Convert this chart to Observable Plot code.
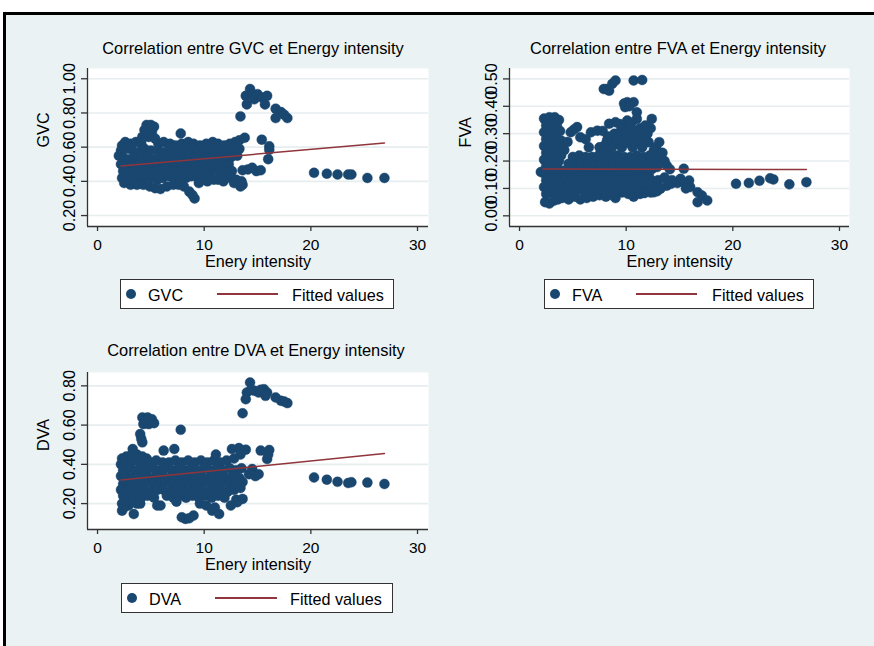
<!DOCTYPE html>
<html>
<head>
<meta charset="utf-8">
<script src="https://cdn.jsdelivr.net/npm/d3@7"></script>
<script src="https://cdn.jsdelivr.net/npm/@observablehq/plot@0.6"></script>
<style>
  html, body { margin: 0; padding: 0; background: #fff; }
  #page { position: relative; width: 874px; height: 646px; overflow: hidden; background: #fff;
          font-family: "Liberation Sans", Arial, Helvetica, sans-serif; color: #000; }
  #region { position: absolute; left: 3px; top: 12px; width: 871px; height: 634px; background: #eaf2f3;
            border-top: 3px solid #000; border-left: 3px solid #000; box-sizing: border-box; }
  .panel { position: absolute; }
  .title { position: absolute; width: 440px; text-align: center; font-size: 16.4px; line-height: 16px; white-space: nowrap; }
  .legend { position: absolute; height: 30px; background: #fff; border: 1.5px solid #333; box-sizing: border-box; }
  .lg-dot { position: absolute; width: 10px; height: 10px; border-radius: 50%; background: #1a476f; }
  .lg-line { position: absolute; height: 1.6px; background: #90353b; }
  .lg-text { position: absolute; font-size: 16.2px; line-height: 16px; white-space: nowrap; }
</style>
</head>
<body>
<div id="page">
  <div id="region"></div>
</div>
<script>
// ---------- data ----------
const energyTicks = [0, 10, 20, 30];
const gvcTicks = [0.2, 0.4, 0.6, 0.8, 1.0];
const fvaTicks = [0.0, 0.1, 0.2, 0.3, 0.4, 0.5];
const dvaTicks = [0.2, 0.4, 0.6, 0.8];

// [energy intensity, GVC]
const gvcPoints = [
  [2.3,.61],[2.6,.63],[3.1,.62],[3.6,.63],[4.1,.62],[5.7,.62],[6.2,.63],[6.8,.62],[7.3,.61],[7.9,.62],[8.5,.63],[9.0,.62],[9.6,.61],[10.2,.62],[10.8,.63],[11.3,.62],[11.9,.61],[12.4,.62],[12.9,.63],[13.3,.64],
  [4.2,.66],[4.4,.70],[4.6,.73],[5.0,.73],[5.3,.72],[5.1,.69],[4.8,.66],[5.4,.65],[4.1,.64],
  [7.8,.68],[13.8,.655],
  [2.2,.58],[2.7,.59],[3.3,.58],[3.9,.57],[4.4,.59],[5.0,.58],[5.6,.58],[6.1,.57],[6.7,.59],[7.2,.58],[7.8,.57],[8.3,.58],[8.9,.59],[9.4,.58],[10.0,.57],[10.5,.58],[11.1,.59],[11.7,.58],[12.2,.57],[12.8,.58],[13.3,.59],
  [2.0,.55],[2.4,.54],[3.0,.53],[3.6,.54],[4.1,.55],[4.7,.54],[5.3,.53],[5.9,.54],[6.4,.55],[7.0,.54],[7.5,.53],[8.1,.54],[8.6,.55],[9.2,.54],[9.7,.53],[10.3,.54],[10.8,.55],[11.4,.54],[12.0,.53],[12.5,.54],[13.1,.55],
  [2.2,.50],[2.8,.49],[3.3,.50],[3.9,.51],[4.4,.50],[5.0,.49],[5.6,.50],[6.2,.51],[6.7,.50],[7.3,.49],[7.8,.50],[8.4,.51],[8.9,.50],[9.5,.49],[10.0,.50],[10.6,.51],[11.2,.50],[11.7,.49],[12.3,.50],
  [2.4,.46],[3.0,.45],[3.5,.46],[4.1,.47],[4.7,.46],[5.2,.45],[5.8,.46],[6.4,.47],[6.9,.46],[7.5,.45],[8.0,.46],[8.6,.47],[9.1,.46],[9.7,.45],[10.3,.46],[10.9,.47],[11.4,.46],[12.0,.45],[12.6,.46],[13.6,.465],[14.1,.47],[14.5,.48],[14.9,.46],[15.3,.465],
  [2.3,.42],[2.8,.42],[3.4,.41],[3.9,.42],[4.5,.43],[5.0,.42],[5.6,.41],[6.1,.42],[6.7,.43],[7.2,.42],[7.8,.41],[8.3,.42],[8.8,.43],[9.4,.42],[10.1,.41],[10.7,.42],[11.3,.41],[11.9,.42],[12.5,.42],[13.0,.41],[13.5,.40],
  [2.5,.39],[3.1,.38],[3.7,.38],[4.3,.38],[4.9,.37],[5.4,.36],[5.9,.355],[6.5,.37],[7.1,.38],[7.6,.38],[8.1,.37],[8.6,.34],[8.9,.32],[9.1,.30],[9.5,.39],[10.3,.40],[10.9,.41],[11.8,.40],[12.8,.39],[13.4,.37],[13.6,.38],
  [13.4,.78],[13.9,.90],[14.0,.85],[14.3,.94],[14.5,.91],[14.7,.88],[15.0,.91],[15.4,.89],[15.9,.90],[15.7,.85],[16.7,.825],[17.2,.805],[16.7,.77],[17.8,.77],[17.5,.79],
  [15.4,.644],[16.1,.605],[16.1,.585],[16.0,.53],
  [20.3,.45],[21.5,.445],[22.5,.44],[23.5,.44],[23.8,.44],[25.3,.42],[26.9,.42]
];

// [energy intensity, FVA]
const fvaPoints = [
  [2.3,.355],[2.8,.36],[3.3,.36],[3.7,.35],
  [2.5,.33],[3.0,.335],[3.5,.33],
  [2.3,.305],[2.8,.31],[3.3,.30],[3.8,.31],
  [2.5,.28],[3.0,.285],[3.5,.28],[3.9,.275],
  [2.3,.255],[2.8,.26],[3.3,.255],[3.8,.25],
  [2.5,.23],[3.0,.235],[3.5,.23],[3.9,.22],
  [2.3,.205],[2.8,.21],[3.3,.205],[3.7,.20],
  [2.0,.16],[2.5,.18],[3.0,.185],[3.5,.18],
  [2.3,.155],[2.8,.16],[3.3,.155],[3.7,.15],
  [2.5,.13],[3.0,.135],[3.5,.13],
  [2.3,.105],[2.8,.11],[3.3,.105],[3.7,.10],
  [2.5,.08],[3.0,.085],[3.5,.08],
  [2.4,.05],[2.8,.045],[3.2,.055],[3.6,.06],
  [4.0,.065],[4.6,.06],[5.2,.07],[5.7,.06],[6.3,.065],[6.9,.07],[7.5,.075],[8.1,.07],[8.7,.075],[9.0,.065],[9.6,.085],[10.2,.08],[10.7,.07],[11.3,.08],[11.7,.085],[12.3,.085],[12.9,.09],
  [4.3,.09],[4.9,.09],[5.5,.095],[6.1,.09],[6.7,.09],[7.3,.095],[7.9,.09],[8.5,.09],[9.1,.095],[9.9,.10],[10.4,.10],[11.0,.10],[11.6,.10],[12.2,.105],[12.7,.11],[13.2,.10],[13.8,.11],[14.2,.117],[14.8,.12],[15.1,.135],[15.5,.12],[15.9,.129],[16.0,.105],[15.6,.10],
  [4.0,.115],[4.6,.12],[5.2,.115],[5.8,.115],[6.4,.12],[7.0,.115],[7.6,.115],[8.2,.12],[8.8,.115],[9.4,.115],[10.0,.125],[10.6,.12],[11.2,.12],[11.8,.125],[12.4,.13],[13.0,.13],[13.6,.14],[14.3,.13],
  [4.3,.14],[4.9,.14],[5.5,.145],[6.1,.14],[6.7,.14],[7.3,.145],[7.9,.14],[8.5,.14],[9.1,.145],[9.7,.14],[10.3,.145],[10.9,.14],[11.5,.145],[12.1,.15],
  [4.0,.165],[4.6,.165],[5.2,.17],[5.8,.165],[6.4,.165],[7.0,.17],[7.6,.165],[8.2,.165],[8.8,.17],[9.4,.165],[10.0,.165],[10.6,.17],[11.2,.165],[11.8,.17],[12.4,.17],[12.9,.178],[13.8,.184],[14.1,.17],
  [4.6,.19],[5.2,.195],[5.8,.19],[6.4,.19],[7.0,.195],[7.6,.19],[8.2,.19],[8.8,.195],[9.4,.19],[10.0,.19],[10.6,.195],[11.2,.19],[11.8,.19],[12.4,.20],[13.0,.21],
  [5.0,.215],[5.6,.22],[6.2,.215],[6.8,.215],[7.4,.22],[8.0,.215],[8.6,.215],[9.2,.22],[9.8,.215],[10.4,.215],[11.0,.22],[11.6,.215],[12.2,.22],
  [4.2,.24],[4.5,.27],[4.8,.305],[5.1,.315],[5.4,.324],[5.7,.287],[6.2,.28],[6.7,.305],[7.3,.311],[7.8,.31],[8.2,.275],[8.4,.336],[9.0,.342],[8.7,.27],[9.3,.26],[9.6,.25],[10.1,.348],[10.0,.29],[10.4,.28],[10.6,.25],[11.0,.378],[11.0,.354],[11.3,.32],[11.6,.30],[11.9,.27],[12.1,.269],[12.4,.354],[13.1,.269],[12.6,.24],[13.2,.21],[13.6,.20],[10.8,.31],[9.8,.33],[6.5,.25],[7.5,.25],[8.0,.24],
  [7.9,.255],[8.3,.29],[8.9,.30],[9.5,.31],[9.2,.285],[10.2,.32],[10.5,.30],[11.2,.28],[11.5,.25],[12.0,.30],[12.3,.32],[9.9,.265],[10.8,.265],[8.6,.245],[11.8,.33],[10.5,.34],[9.4,.335],[12.8,.25],[13.4,.23],
  [9.8,.41],[10.1,.415],[10.7,.415],[9.9,.397],[10.3,.40],[7.9,.463],[8.2,.463],[8.4,.457],[8.7,.482],[9.0,.494],[10.7,.494],[11.5,.496],
  [13.2,.099],[12.6,.086],[11.7,.083],[16.7,.086],[17.1,.074],[16.7,.05],[17.6,.056],[15.4,.172],
  [20.3,.117],[21.5,.12],[22.5,.128],[23.5,.137],[23.8,.133],[25.3,.115],[26.9,.123]
];

// [energy intensity, DVA]
const dvaPoints = [
  [2.3,.43],[2.7,.44],[3.2,.45],[3.3,.478],[3.7,.45],[4.2,.44],[4.6,.43],
  [2.2,.40],[2.6,.41],[3.1,.41],[3.7,.42],[4.3,.41],[4.9,.41],[5.5,.42],[6.1,.41],[6.2,.47],[6.7,.41],[7.2,.478],[7.3,.42],[7.9,.41],[8.5,.42],[9.1,.41],[9.7,.42],[10.3,.41],[10.9,.42],[11.1,.45],[11.5,.41],[12.1,.42],[12.6,.478],[13.25,.483],[13.9,.475],[12.8,.43],[13.4,.45],
  [2.4,.37],[2.9,.38],[3.5,.37],[4.0,.38],[4.6,.37],[5.2,.38],[5.8,.37],[6.4,.38],[7.0,.37],[7.6,.38],[8.2,.37],[8.8,.38],[9.4,.37],[10.0,.38],[10.6,.37],[11.2,.38],[11.8,.37],[12.4,.38],[13.0,.37],[13.5,.38],
  [2.2,.34],[2.7,.34],[3.2,.33],[3.8,.34],[4.3,.34],[4.9,.33],[5.5,.34],[6.1,.34],[6.7,.33],[7.3,.34],[7.9,.34],[8.5,.33],[9.1,.34],[9.7,.34],[10.3,.33],[10.9,.34],[11.5,.34],[12.1,.33],[12.7,.34],[13.3,.33],[14.2,.35],[14.5,.376],[15.1,.35],[14.8,.34],
  [2.4,.30],[3.0,.31],[3.5,.30],[4.1,.30],[4.6,.31],[5.2,.30],[5.8,.30],[6.4,.31],[7.0,.30],[7.6,.30],[8.2,.31],[8.8,.30],[9.4,.30],[10.0,.31],[10.6,.30],[11.2,.30],[11.8,.31],[12.4,.30],[13.0,.30],[13.6,.31],
  [2.2,.27],[2.8,.27],[3.3,.26],[3.9,.27],[4.4,.27],[5.0,.26],[5.6,.27],[6.2,.27],[6.8,.26],[7.4,.27],[8.0,.27],[8.6,.26],[9.2,.27],[9.8,.27],[10.4,.26],[11.0,.27],[11.6,.27],[12.2,.26],[12.8,.27],[13.4,.28],
  [2.4,.24],[3.0,.23],[3.5,.24],[4.1,.23],[4.7,.24],[5.3,.23],[6.5,.24],[7.1,.23],[7.7,.24],[8.3,.23],[8.9,.24],[9.5,.23],[10.1,.24],[10.7,.23],[11.3,.24],[11.9,.23],[13.0,.22],[13.6,.224],
  [2.3,.20],[2.9,.19],[3.7,.20],[5.6,.19],[5.9,.19],[7.4,.21],[9.6,.20],[10.2,.19],[10.75,.164],[11.4,.147],[11.0,.18],[12.5,.19],[13.1,.207],[2.3,.164],[2.5,.18],[3.4,.147],[4.0,.20],
  [7.9,.13],[8.25,.122],[9.0,.139],[8.6,.125],
  [4.2,.639],[4.7,.639],[5.1,.63],[4.8,.605],[4.3,.605],[5.3,.61],[4.0,.554],[4.2,.512],[4.1,.53],[4.5,.62],
  [7.8,.576],
  [14.3,.817],[14.0,.766],[13.9,.732],[14.7,.775],[15.1,.766],[15.6,.783],[15.9,.766],[15.75,.749],[16.7,.741],[17.2,.724],[17.8,.712],[17.5,.72],[13.6,.66],[14.4,.78],[15.3,.78],
  [15.3,.47],[16.1,.473],[15.9,.427],[16.0,.45],
  [20.3,.333],[21.5,.322],[22.5,.311],[23.5,.305],[23.8,.309],[25.3,.307],[26.9,.30]
];

// fitted values (linear fit endpoints)
const fitEnergy = [2.2, 26.9];
const gvcFit = [0.49, 0.625];
const fvaFit = [0.171, 0.169];
const dvaFit = [0.32, 0.455];

// ---------- drawing ----------
const NAVY = "#1a476f", MAROON = "#90353b", GRID = "#e6eef0", AXIS = "#333";
const FONT = "'Liberation Sans', Arial, Helvetica, sans-serif";
const page = document.getElementById("page");

function panel({points, fit, yDomain, xDomain, yTicks, yLabel, left, top, width, height, ml, mr, mt, mb}) {
  const fitData = fitEnergy.map((e, i) => ({e, v: fit[i]}));
  const chart = Plot.plot({
    width, height, marginLeft: ml, marginRight: mr, marginTop: mt, marginBottom: mb,
    style: {background: "none", fontFamily: FONT, fontSize: "15.5px", color: "#000", overflow: "visible"},
    x: {domain: xDomain, axis: null},
    y: {domain: yDomain, axis: null},
    marks: [
      Plot.frame({fill: "white", stroke: "none"}),
      Plot.ruleY(yTicks, {stroke: GRID, strokeWidth: 1.6}),
      Plot.dot(points, {x: d => d[0], y: d => d[1], r: 5, fill: NAVY, stroke: NAVY, strokeWidth: 0.4}),
      Plot.line(fitData, {x: "e", y: "v", stroke: MAROON, strokeWidth: 1.5}),
      Plot.ruleX([xDomain[0]], {stroke: AXIS, strokeWidth: 1.3}),
      Plot.ruleY([yDomain[0]], {stroke: AXIS, strokeWidth: 1.3}),
      Plot.ruleX(energyTicks, {x: d => d, y1: yDomain[0], y2: yDomain[0], insetTop: 5, stroke: AXIS, strokeWidth: 1.3}),
      Plot.ruleY(yTicks, {y: d => d, x1: xDomain[0], x2: xDomain[0], insetLeft: -6, stroke: AXIS, strokeWidth: 1.3}),
      Plot.text(energyTicks, {x: d => d, frameAnchor: "bottom", dy: 19, text: d => String(d), lineAnchor: "middle", fontSize: 15.5}),
      Plot.text(yTicks, {y: d => d, frameAnchor: "left", dx: -17.5, rotate: -90, text: d => d.toFixed(2), textAnchor: "middle", lineAnchor: "middle", fontSize: 16.2}),
      Plot.text([yLabel], {frameAnchor: "left", dx: -44, rotate: -90, text: d => d, lineAnchor: "middle", fontSize: 16.2}),
      Plot.text(["Enery intensity"], {frameAnchor: "bottom", dy: 35, text: d => d, lineAnchor: "middle", fontSize: 16.2})
    ]
  });
  chart.classList.add("panel");
  chart.style.left = left + "px";
  chart.style.top = top + "px";
  page.appendChild(chart);
}

function title(text, cx, topPx) {
  const d = document.createElement("div");
  d.className = "title";
  d.textContent = text;
  d.style.left = (cx - 220) + "px";
  d.style.top = topPx + "px";
  page.appendChild(d);
}

function legend(name, {left, top, width, dotX, nameX, lineX1, lineX2, fitX}) {
  const box = document.createElement("div");
  box.className = "legend";
  box.style.left = left + "px"; box.style.top = top + "px"; box.style.width = width + "px";
  page.appendChild(box);
  const cy = top + 15;
  const dot = document.createElement("div");
  dot.className = "lg-dot"; dot.style.left = (dotX - 5) + "px"; dot.style.top = (cy - 5) + "px";
  page.appendChild(dot);
  const t1 = document.createElement("div");
  t1.className = "lg-text"; t1.textContent = name; t1.style.left = nameX + "px"; t1.style.top = (cy - 7) + "px";
  page.appendChild(t1);
  const ln = document.createElement("div");
  ln.className = "lg-line"; ln.style.left = lineX1 + "px"; ln.style.width = (lineX2 - lineX1) + "px"; ln.style.top = (cy - 0.8) + "px";
  page.appendChild(ln);
  const t2 = document.createElement("div");
  t2.className = "lg-text"; t2.textContent = "Fitted values"; t2.style.left = fitX + "px"; t2.style.top = (cy - 7) + "px";
  page.appendChild(t2);
}

panel({points: gvcPoints, fit: gvcFit, yDomain: [0.136, 1.06], xDomain: [-0.94, 31.03], yTicks: gvcTicks, yLabel: "GVC",
       left: 20, top: 60, width: 420, height: 225, ml: 67, mr: 12, mt: 8, mb: 59});
panel({points: fvaPoints, fit: fvaFit, yDomain: [-0.039, 0.538], xDomain: [-0.94, 30.94], yTicks: fvaTicks, yLabel: "FVA",
       left: 440, top: 60, width: 425, height: 225, ml: 69, mr: 16, mt: 8, mb: 59});
panel({points: dvaPoints, fit: dvaFit, yDomain: [0.068, 0.868], xDomain: [-0.94, 31.03], yTicks: dvaTicks, yLabel: "DVA",
       left: 20, top: 362, width: 420, height: 225, ml: 67, mr: 12, mt: 10, mb: 58});

title("Correlation entre GVC et Energy intensity", 253, 40);
title("Correlation entre FVA et Energy intensity", 678, 40);
title("Correlation entre DVA et Energy intensity", 256, 342);

legend("GVC", {left: 120, top: 279, width: 274, dotX: 131, nameX: 148, lineX1: 217, lineX2: 278, fitX: 292});
legend("FVA", {left: 544, top: 279, width: 270, dotX: 555, nameX: 572, lineX1: 636, lineX2: 697, fitX: 712});
legend("DVA", {left: 121, top: 583, width: 272, dotX: 132, nameX: 149, lineX1: 215, lineX2: 277, fitX: 290});
</script>
</body>
</html>
